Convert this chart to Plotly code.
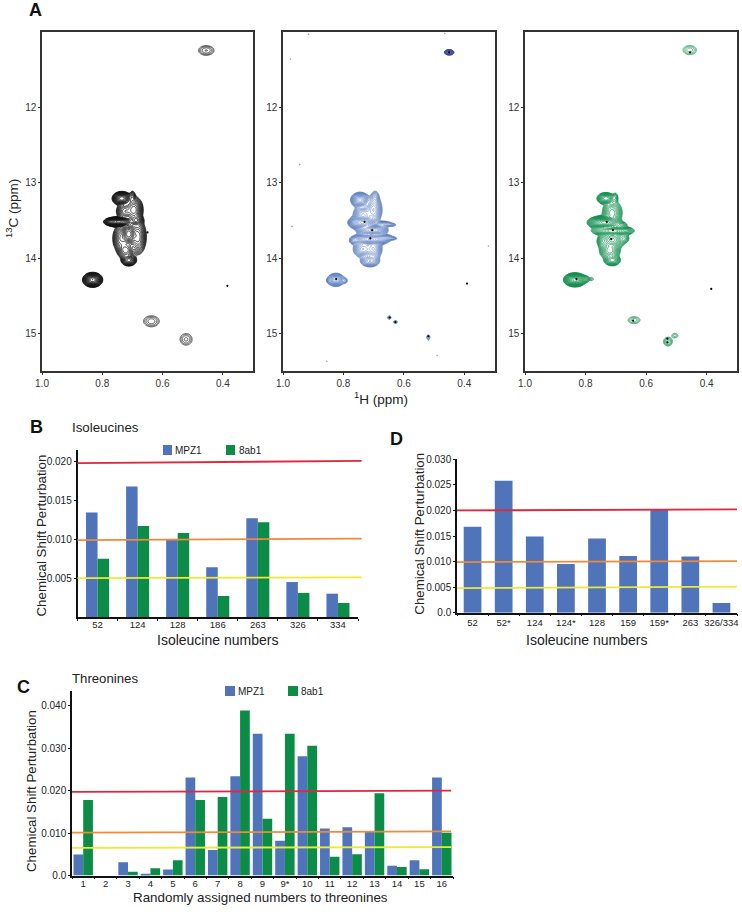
import numpy as np
import plotly.graph_objects as go

W, H = 742, 918
FONT = "Liberation Sans"
BLUE, GREEN = "#4F74B9", "#0B8C47"
RED, ORANGE, YELLOW = "#E0283A", "#EE8A3C", "#EFE83A"

# ---------- panel B ----------
b_cats = ["52", "124", "128", "186", "263", "326", "334"]
b_mpz1 = [0.01345, 0.0168, 0.0100, 0.0064, 0.0127, 0.0045, 0.0030]
b_8ab1 = [0.0075, 0.0117, 0.0108, 0.0027, 0.0122, 0.0031, 0.0018]
b_lines = [(0.0198, 0.0201, RED), (0.0099, 0.0101, ORANGE), (0.0050, 0.0051, YELLOW)]
b_ticks = [0.005, 0.010, 0.015, 0.020]
b_ticktext = ["0.005", "0.010", "0.015", "0.020"]

# ---------- panel C ----------
c_cats = ["1", "2", "3", "4", "5", "6", "7", "8", "9", "9*", "10", "11", "12", "13", "14", "15", "16"]
c_mpz1 = [0.00495, 0, 0.0031, 0.0004, 0.0014, 0.0231, 0.0060, 0.0234, 0.0334, 0.0082, 0.0281,
          0.0111, 0.0114, 0.0103, 0.0023, 0.0036, 0.0231]
c_8ab1 = [0.0178, 0, 0.0009, 0.0017, 0.0036, 0.0178, 0.0185, 0.0389, 0.0134, 0.0334, 0.0306,
          0.0044, 0.0050, 0.0194, 0.0020, 0.0015, 0.0101]
c_lines = [(0.0197, 0.0200, RED), (0.0101, 0.0104, ORANGE), (0.0065, 0.0067, YELLOW)]
c_ticks = [0, 0.010, 0.020, 0.030, 0.040]
c_ticktext = ["0.0", "0.010", "0.020", "0.030", "0.040"]

# ---------- panel D ----------
d_cats = ["52", "52*", "124", "124*", "128", "159", "159*", "263", "326/334"]
d_mpz1 = [0.0168, 0.0258, 0.0149, 0.0095, 0.0145, 0.0111, 0.0203, 0.0110, 0.0019]
d_lines = [(0.0200, 0.0202, RED), (0.0099, 0.0101, ORANGE), (0.0048, 0.0051, YELLOW)]
d_ticks = [0, 0.005, 0.010, 0.015, 0.020, 0.025, 0.030]
d_ticktext = ["0.0", "0.005", "0.010", "0.015", "0.020", "0.025", "0.030"]

# ---------- panel A: peaks (1H, 13C, x-width, y-width, intensity) ----------
a1_peaks = [(0.832, 14.29, 0.011, 0.033, 200),
            (0.735, 13.21, 0.011, 0.032, 150), (0.700, 13.20, 0.005, 0.045, 12),
            (0.695, 13.36, 0.012, 0.070, 50), (0.725, 13.38, 0.012, 0.050, 30),
            (0.745, 13.52, 0.016, 0.022, 300), (0.775, 13.52, 0.006, 0.014, 20), (0.688, 13.50, 0.010, 0.030, 40),
            (0.712, 13.68, 0.010, 0.060, 110), (0.738, 13.74, 0.012, 0.080, 25), (0.682, 13.72, 0.012, 0.100, 30),
            (0.722, 13.90, 0.012, 0.050, 30), (0.712, 14.03, 0.010, 0.030, 50)]
a1_weak = [(0.455, 11.245, 0.015, 0.038, 8), (0.637, 14.84, 0.016, 0.045, 7), (0.522, 15.08, 0.013, 0.050, 6)]
a2_peaks = [(0.825, 14.29, 0.011, 0.034, 60), (0.795, 14.30, 0.005, 0.022, 6), (0.848, 14.30, 0.004, 0.020, 6),
            (0.648, 14.79, 0.004, 0.018, 5), (0.628, 14.85, 0.005, 0.014, 5), (0.519, 15.05, 0.004, 0.022, 5),
            (0.519, 15.11, 0.002, 0.025, 1.6),
            (0.745, 13.23, 0.012, 0.040, 60), (0.695, 13.20, 0.007, 0.050, 8), (0.700, 13.36, 0.012, 0.080, 30),
            (0.735, 13.42, 0.014, 0.050, 30),
            (0.738, 13.53, 0.016, 0.035, 160), (0.768, 13.53, 0.006, 0.018, 12),
            (0.668, 13.55, 0.014, 0.020, 14), (0.638, 13.56, 0.008, 0.012, 5),
            (0.705, 13.63, 0.018, 0.030, 160), (0.710, 13.75, 0.022, 0.030, 160),
            (0.665, 13.73, 0.014, 0.020, 14), (0.635, 13.74, 0.008, 0.012, 5), (0.766, 13.77, 0.007, 0.025, 10),
            (0.735, 13.88, 0.014, 0.050, 30), (0.700, 13.88, 0.012, 0.060, 30), (0.712, 14.04, 0.014, 0.035, 25)]
a2_dark = [(0.450, 11.27, 0.006, 0.014, 60)]
a3_peaks = [(0.835, 14.29, 0.012, 0.030, 300), (0.805, 14.28, 0.010, 0.024, 12),
            (0.733, 13.21, 0.011, 0.030, 70), (0.702, 13.20, 0.005, 0.035, 8), (0.712, 13.40, 0.014, 0.070, 30),
            (0.738, 13.53, 0.018, 0.030, 300), (0.765, 13.54, 0.006, 0.014, 10), (0.690, 13.56, 0.012, 0.020, 20),
            (0.710, 13.64, 0.024, 0.025, 150), (0.665, 13.63, 0.006, 0.014, 10),
            (0.712, 13.76, 0.016, 0.045, 80), (0.672, 13.74, 0.008, 0.030, 10), (0.745, 13.78, 0.008, 0.040, 14),
            (0.720, 13.90, 0.014, 0.050, 40), (0.712, 14.03, 0.011, 0.030, 40)]
a3_weak = [(0.456, 11.24, 0.0145, 0.040, 6), (0.640, 14.825, 0.013, 0.030, 6), (0.528, 15.11, 0.008, 0.032, 10),
           (0.505, 15.03, 0.008, 0.025, 4), (0.782, 14.28, 0.007, 0.016, 4)]
a1_dots = [(0.385, 14.37), (0.650, 13.66)]
a2_dots = [(0.730, 13.52), (0.705, 13.63), (0.711, 13.74), (0.824, 14.28), (0.647, 14.79), (0.628, 14.85),
           (0.519, 15.04), (0.450, 11.27), (0.391, 14.34)]
a2_noise = [(0.915, 11.03), (0.975, 11.36), (0.945, 12.76), (0.970, 13.58), (0.855, 15.37), (0.320, 13.84),
            (0.490, 15.29), (0.465, 11.02)]
a3_dots = [(0.730, 13.52), (0.710, 13.63), (0.715, 13.75), (0.830, 14.28), (0.643, 14.83), (0.530, 15.07),
           (0.530, 15.12), (0.455, 11.27), (0.385, 14.41)]
a_xticks = [1.0, 0.8, 0.6, 0.4]
a_yticks = [12, 13, 14, 15]

# ---------- helpers ----------
def dx(a, b):
    return [a / W, b / W]
def dy(top, bot):
    return [1 - bot / H, 1 - top / H]

fig = go.Figure()
tick_font = dict(family=FONT, size=10, color="#333333")

grid_x = np.linspace(0.3, 1.0, 280)
grid_y = np.linspace(11.0, 15.5, 450)
GX, GY = np.meshgrid(grid_x, grid_y)

def surface(peaks):
    z = np.full(GX.shape, 1e-4)
    for px, py, sx, sy, amp in peaks:
        z += amp * np.exp(-0.5 * (((GX - px) / sx) ** 2 + ((GY - py) / sy) ** 2))
    return np.round(np.log(z), 2)

def contour(peaks, col, i, size, width, end=6.0):
    fig.add_trace(go.Contour(x=grid_x, y=grid_y, z=surface(peaks), xaxis=f"x{i}", yaxis=f"y{i}",
                             contours=dict(coloring="lines", start=0.6, end=end, size=size, showlabels=False),
                             colorscale=[[0, col], [1, col]], showscale=False,
                             line=dict(width=width), hoverinfo="skip"))

panels = [
    (a1_peaks, "#111111", [42, 253], a1_dots, [], 0.26, 0.8, a1_weak, "#222222", 0.36, 0.7),
    (a2_peaks, "#5579BD", [283, 494.5], a2_dots, a2_noise, 0.2, 0.5, a2_dark, "#3C4A9A", 0.3, 0.8),
    (a3_peaks, "#0F8C4C", [525, 737], a3_dots, [], 0.26, 0.7, a3_weak, "#2E9A66", 0.32, 0.7),
]
for i, (peaks, col, xpx, dots, noise, size, width, weak, weak_col, wsize, wwidth) in enumerate(panels, start=1):
    xa, ya = f"xaxis{i}", f"yaxis{i}"
    contour(peaks, col, i, size, width)
    contour(weak, weak_col, i, wsize, wwidth)
    if noise:
        fig.add_trace(go.Scatter(x=[p[0] for p in noise], y=[p[1] for p in noise], xaxis=f"x{i}", yaxis=f"y{i}",
                                 mode="markers", marker=dict(color="#8F9DBF", size=1.6), hoverinfo="skip"))
    fig.add_trace(go.Scatter(x=[p[0] for p in dots], y=[p[1] for p in dots], xaxis=f"x{i}", yaxis=f"y{i}",
                             mode="markers", marker=dict(color="#000000", size=2.2), hoverinfo="skip"))
    fig.update_layout({
        xa: dict(domain=dx(*xpx), range=[1.0, 0.3], tickvals=a_xticks, ticktext=["1.0", "0.8", "0.6", "0.4"],
                 showgrid=False, zeroline=False, showline=True, mirror=True, linecolor="#333333", linewidth=1.5,
                 ticks="outside", ticklen=2, tickcolor="#333333", tickfont=tick_font, anchor=f"y{i}",
                 automargin=False),
        ya: dict(domain=dy(32, 371), range=[15.5, 11.0], tickvals=a_yticks,
                 showgrid=False, zeroline=False, showline=True, mirror=True, linecolor="#333333", linewidth=1.5,
                 ticks="outside", ticklen=2, tickcolor="#333333", tickfont=tick_font, anchor=f"x{i}",
                 automargin=False),
    })

def bar_panel(n, cats, series, xpx, ypx, yr, ticks, ticktext, bar_w, line_end, lines, label_shift=0):
    start = -bar_w * len(series) / 2
    for k, (vals, col, name) in enumerate(series):
        fig.add_trace(go.Bar(x=cats, y=vals, name=name, marker=dict(color=col, line=dict(width=0)),
                             width=bar_w, offset=start + k * bar_w,
                             xaxis=f"x{n}", yaxis=f"y{n}", showlegend=False))
    fig.update_layout({
        f"xaxis{n}": dict(domain=dx(*xpx), type="category", categoryorder="array", categoryarray=cats,
                          tickson="boundaries", ticks="outside", ticklen=2, tickcolor="#111111", tickangle=0,
                          showline=True, linecolor="#111111", linewidth=1.5, showgrid=False, zeroline=False,
                          ticklabelstandoff=label_shift,
                          tickfont=dict(family=FONT, size=9.5, color="#222222"), anchor=f"y{n}", automargin=False),
        f"yaxis{n}": dict(domain=dy(*ypx), range=yr, tickvals=ticks, ticktext=ticktext,
                          ticks="outside", ticklen=2, tickcolor="#111111", automargin=False,
                          showline=True, linecolor="#111111", linewidth=1.5, showgrid=False, zeroline=False,
                          tickfont=dict(family=FONT, size=10, color="#222222"), anchor=f"x{n}"),
    })
    for y0, y1, col in lines:
        fig.add_shape(type="line", xref=f"x{n} domain", yref=f"y{n}", x0=0, x1=line_end, y0=y0, y1=y1,
                      line=dict(color=col, width=1.8), layer="above")

bar_panel(4, b_cats, [(b_mpz1, BLUE, "MPZ1"), (b_8ab1, GREEN, "8ab1")], [77.5, 358], [450, 617],
          [0, 0.0215], b_ticks, b_ticktext, 0.2875, 1.013, b_lines, label_shift=-2)
bar_panel(5, c_cats, [(c_mpz1, BLUE, "MPZ1"), (c_8ab1, GREEN, "8ab1")], [72, 453], [691, 875.5],
          [0, 0.0435], c_ticks, c_ticktext, 0.433, 0.995, c_lines, label_shift=-2)
bar_panel(6, d_cats, [(d_mpz1, BLUE, "MPZ1")], [457, 737], [459.3, 612.7],
          [0, 0.030], d_ticks, d_ticktext, 0.57, 1.0, d_lines)

# legend keys and panel letters
keys = [(163, 172, 445, 455, BLUE), (226, 235, 445, 455, GREEN),
        (225, 235, 686, 696, BLUE), (288, 298, 686, 696, GREEN)]
for x0, x1, y0, y1, col in keys:
    fig.add_shape(type="rect", xref="paper", yref="paper", x0=x0 / W, x1=x1 / W, y0=1 - y1 / H, y1=1 - y0 / H,
                  fillcolor=col, line=dict(width=0))
notes = [(175, 450.5, "MPZ1", 10, False), (239, 450.5, "8ab1", 10, False),
         (238, 691.5, "MPZ1", 10, False), (301, 691.5, "8ab1", 10, False),
         (72, 427, "Isoleucines", 13.3, False), (72, 678, "Threonines", 13.2, False),
         (29, 10.5, "A", 18, True), (30, 427, "B", 18, True), (17, 687, "C", 18, True), (390, 439, "D", 18, True)]
for x, y, t, s, bold in notes:
    fig.add_annotation(xref="paper", yref="paper", x=x / W, y=1 - y / H, xanchor="left", yanchor="middle",
                       text=f"<b>{t}</b>" if bold else t, showarrow=False, borderpad=0, borderwidth=0,
                       font=dict(family=FONT, size=s, color="#111111" if bold else "#222222"))

# axis titles placed at the reference's offset positions
titles = [(381, 398, "<sup>1</sup>H (ppm)", 13.5, 0), (12, 209, "<sup>13</sup>C (ppm)", 13.5, -90),
          (41, 535.5, "Chemical Shift Perturbation", 13.3, -90), (31, 791, "Chemical Shift Perturbation", 13.3, -90),
          (418.7, 534, "Chemical Shift Perturbation", 13.3, -90),
          (217.5, 640, "Isoleucine numbers", 14, 0), (586, 640, "Isoleucine numbers", 14, 0),
          (260.5, 897, "Randomly assigned numbers to threonines", 13.4, 0)]
for x, y, t, s, ang in titles:
    fig.add_annotation(xref="paper", yref="paper", x=x / W, y=1 - y / H, xanchor="center", yanchor="middle",
                       text=t, textangle=ang, showarrow=False, borderpad=0, borderwidth=0,
                       font=dict(family=FONT, size=s, color="#222222"))

fig.update_layout(width=W, height=H, autosize=False, margin=dict(l=0, r=0, t=0, b=0, autoexpand=False),
                  paper_bgcolor="white", plot_bgcolor="white", barmode="overlay",
                  showlegend=False, font=dict(family=FONT))
fig.write_html("out.html", config={"displayModeBar": False}, post_script="document.body.style.margin='0';")
